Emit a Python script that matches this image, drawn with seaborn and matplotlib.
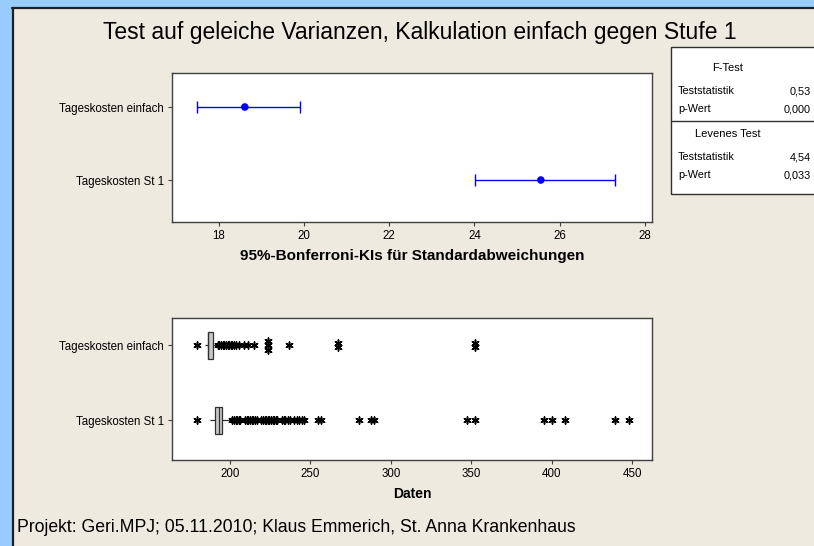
import matplotlib
matplotlib.use("Agg")
import numpy as np
import pandas as pd
import matplotlib.pyplot as plt
import seaborn as sns
from matplotlib.patches import Rectangle
from matplotlib.lines import Line2D

# --- data ---
groups = ["Tageskosten einfach", "Tageskosten St 1"]

# 95% Bonferroni confidence intervals for the standard deviations
sigma_est = [18.61, 25.56]
ci_low = [17.48, 24.02]
ci_high = [19.90, 27.31]

# five-number summaries of the boxes: whisker low, Q1, median, Q3, whisker high
box_einfach = [184.6, 186.1, 186.1, 189.2, 192.0]
box_st1 = [187.7, 190.9, 193.0, 195.0, 201.0]

# outliers (repeated values are stacked vertically, as Minitab does)
out_einfach = [179.5, 192.5, 193.5, 194.5, 195.5, 196.5, 197.5, 198.5, 199.5,
               200.5, 201.5, 202.5, 204.0, 205.5, 208.5, 211.2, 214.7,
               223.6, 223.6, 223.6, 236.9, 267.0, 267.0, 352.6, 352.6]
out_st1 = [179.5, 201.5, 202.5, 203.5, 204.5, 205.5, 206.4,
           209.5, 210.5, 211.5, 212.5, 213.5, 214.5, 215.5, 216.8,
           219.5, 220.5, 221.5, 222.5, 223.5, 224.5, 225.5, 226.5, 227.5, 228.5, 229.2,
           232.3, 233.5, 234.5, 236.0, 237.5, 239.6, 241.7, 243.0, 244.5, 245.8,
           255.0, 256.6, 280.0, 287.9, 289.7, 347.4, 352.6, 395.0, 400.2, 408.5,
           439.6, 448.3]

top_ticks = [18, 20, 22, 24, 26, 28]
bottom_ticks = [200, 250, 300, 350, 400, 450]

title = "Test auf geleiche Varianzen, Kalkulation einfach gegen Stufe 1"
xlabel_top = "95%-Bonferroni-KIs für Standardabweichungen"
xlabel_bottom = "Daten"
footer = "Projekt: Geri.MPJ; 05.11.2010; Klaus Emmerich, St. Anna Krankenhaus"
table_rows = [("F-Test", None), ("Teststatistik", "0,53"), ("p-Wert", "0,000"),
              ("Levenes Test", None), ("Teststatistik", "4,54"), ("p-Wert", "0,033")]

# --- style ---
sns.set_style("ticks")
plt.rcParams["font.family"] = ["Liberation Sans", "DejaVu Sans"]
plt.rcParams["text.color"] = "black"
plt.rcParams["axes.labelcolor"] = "black"

W, H = 814, 546
BG = "#EEEAE0"
fig = plt.figure(figsize=(W / 100, H / 100), dpi=100, facecolor=BG)


def fx(x):
    return x / W


def fy(y):
    return 1 - y / H


def axes_px(left, top, right, bottom):
    return fig.add_axes([fx(left), fy(bottom), fx(right) - fx(left), (bottom - top) / H])


# window frame (blue band on the left and top)
fig.add_artist(Rectangle((0, 0), fx(11.5), 1, transform=fig.transFigure,
                         facecolor="#99CCFF", edgecolor="none"))
fig.add_artist(Rectangle((0, fy(7)), 1, 7 / H, transform=fig.transFigure,
                         facecolor="#99CCFF", edgecolor="none"))
fig.add_artist(Line2D([fx(12.5), fx(12.5)], [0, fy(7.5)], transform=fig.transFigure,
                      color="#202020", lw=1.6))
fig.add_artist(Line2D([fx(12), 1], [fy(7.5), fy(7.5)], transform=fig.transFigure,
                      color="#202020", lw=1.6))

spine_col = "#404040"


def style_axes(ax):
    ax.set_facecolor("white")
    for s in ax.spines.values():
        s.set_color(spine_col)
        s.set_linewidth(1.0)
    ax.tick_params(axis="both", labelsize=8.3, length=3, width=0.8, color=spine_col,
                   labelcolor="black", pad=3)


# --- top panel: confidence intervals for sigma ---
ax1 = axes_px(172, 73, 652, 222)
ypos = np.arange(len(groups))
lo_err = np.array(sigma_est) - np.array(ci_low)
hi_err = np.array(ci_high) - np.array(sigma_est)
ax1.errorbar(sigma_est, ypos, xerr=[lo_err, hi_err], fmt="none", ecolor="#0000FF",
             elinewidth=1.0, capsize=4, capthick=1.0)
sns.scatterplot(x=sigma_est, y=ypos, ax=ax1, color="#0000FF", s=30, edgecolor="none",
                zorder=3)
ax1.set_xlim(16.9, 28.17)
ax1.set_ylim(1.575, -0.466)
ax1.set_xticks(top_ticks)
ax1.set_yticks(ypos)
ax1.set_yticklabels(groups)
ax1.set_xlabel(xlabel_top, fontsize=11, fontweight="bold", labelpad=5)
ax1.set_ylabel("")
style_axes(ax1)

# --- bottom panel: boxplots ---
ax2 = axes_px(172, 318, 652, 460)
box_df = pd.DataFrame({
    "gruppe": [groups[0]] * len(box_einfach) + [groups[1]] * len(box_st1),
    "wert": box_einfach + box_st1,
})
sns.boxplot(data=box_df, x="wert", y="gruppe", order=groups, orient="h", ax=ax2,
            width=0.36, color="#C8C8C8", saturation=1, linecolor="#303030",
            linewidth=0.9, showcaps=False, showfliers=False, whis=1.5)

out_df = pd.DataFrame({
    "row": [0] * len(out_einfach) + [1] * len(out_st1),
    "wert": out_einfach + out_st1,
})
dup_idx = out_df.groupby(["row", "wert"]).cumcount()
dup_n = out_df.groupby(["row", "wert"])["wert"].transform("size")
out_df["ypos"] = out_df["row"] + (dup_idx - (dup_n - 1) / 2) * 0.06
ax2.scatter(out_df["wert"], out_df["ypos"], marker=(6, 2, 0), s=26, color="black",
            linewidths=1.1, zorder=3)

ax2.set_xlim(164.0, 462.3)
ax2.set_ylim(1.533, -0.36)
ax2.set_xticks(bottom_ticks)
ax2.set_yticks(ypos)
ax2.set_yticklabels(groups)
ax2.set_xlabel(xlabel_bottom, fontsize=10, fontweight="bold", labelpad=5)
ax2.set_ylabel("")
style_axes(ax2)

# --- titles and footer ---
fig.text(fx(420), fy(33), title, ha="center", va="center", fontsize=16.5)
fig.text(fx(17), fy(527), footer, ha="left", va="center", fontsize=12.7)

# --- test result table (cut at the right edge like the reference) ---
tab_left, tab_top, tab_bottom, tab_div = 671, 47, 194, 121
fig.add_artist(Rectangle((fx(tab_left), fy(tab_bottom)), fx(W + 20 - tab_left),
                         (tab_bottom - tab_top) / H, transform=fig.transFigure,
                         facecolor="white", edgecolor="#303030", lw=1.0))
fig.add_artist(Line2D([fx(tab_left), 1], [fy(tab_div), fy(tab_div)],
                      transform=fig.transFigure, color="#303030", lw=1.0))
row_y = [68, 91, 109, 134, 157, 175]
for (label, val), y in zip(table_rows, row_y):
    if val is None:
        fig.text(fx(728), fy(y), label, ha="center", va="center", fontsize=8)
    else:
        fig.text(fx(678), fy(y), label, ha="left", va="center", fontsize=7.8)
        fig.text(fx(811), fy(y), val, ha="right", va="center", fontsize=7.8)

fig.savefig("out.png", dpi=100, facecolor=BG)
